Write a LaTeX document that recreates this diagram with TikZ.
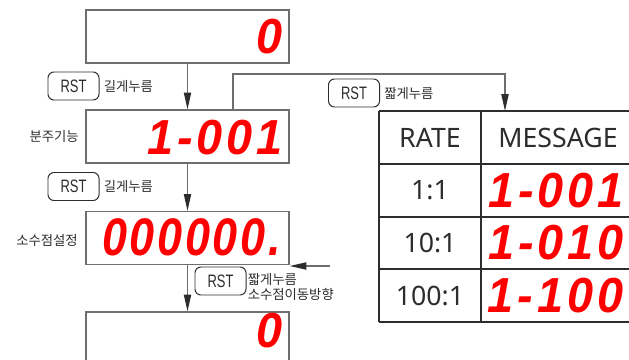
\documentclass[tikz,border=0pt]{standalone}
\usepackage{fontspec}
\setmainfont{Noto Sans}
\newfontfamily\hangul{Noto Sans CJK KR}
\newfontfamily\keyfont[FakeStretch=0.72]{Liberation Sans}
\newfontfamily\segfont[FakeStretch=0.95,LetterSpace=8]{Liberation Sans}
\newfontfamily\segtight[FakeStretch=0.85,LetterSpace=5]{Liberation Sans}
\usetikzlibrary{arrows.meta}
\definecolor{ledred}{RGB}{255,0,0}
\definecolor{edge}{RGB}{110,110,110}
\definecolor{ink}{RGB}{45,45,45}
\tikzset{
  panel/.style={draw=edge, line width=0.9pt, minimum width=5.075cm, minimum height=1.325cm, inner sep=0pt},
  key/.style={draw=ink, line width=0.7pt, rounded corners=0.15cm, minimum width=1.275cm, minimum height=0.7cm,
    inner sep=0pt, text=ink, font=\keyfont\fontsize{12.8}{13}\selectfont},
  note/.style={text=ink, inner sep=0pt, font=\hangul\fontsize{9.5}{10.7}\selectfont},
  led/.style={text=ledred, inner sep=0pt, anchor=east, font=\segfont\bfseries\itshape\fontsize{35}{36}\selectfont},
  cell/.style={text=ink, inner sep=0pt, font=\fontsize{19}{20}\selectfont},
  flow/.style={draw=edge, line width=0.9pt, -{Triangle[length=4.2mm,width=1.8mm,color=ink]}},
  grid/.style={draw=ink, line width=1.1pt}
}
\begin{document}
\begin{tikzpicture}[x=0.025cm, y=-0.025cm]
  \useasboundingbox (0,0) rectangle (629,360);
  \clip (0,0) rectangle (629,360);
  % display panels
  \node[panel] (zero) at (187.5,36.5) {};
  \node[panel] (div) at (187.5,136.5) {};
  \node[panel] (dec) at (187.5,238) {};
  \node[panel] (done) at (187.5,338.5) {};
  \node[led] (zeroval) at (283,36.5) {0};
  \node[led] (divval) at (283,137.5) {1-001};
  \node[led, font=\segtight\bfseries\itshape\fontsize{37.6}{38}\selectfont] (decval) at (281,237.5) {000000.};
  \node[led] (doneval) at (283,331) {0};
  \node[note, anchor=east] (divname) at (79,136) {분주기능};
  \node[note, anchor=east] (decname) at (78,240) {소수점설정};
  % keys
  \node[key] (hold1) at (73.5,86) {RST};
  \node[note, anchor=west] (hold1txt) at ([xshift=0.1cm]hold1.east) {길게누름};
  \node[key] (hold2) at (73.5,186.5) {RST};
  \node[note, anchor=west] (hold2txt) at ([xshift=0.1cm]hold2.east) {길게누름};
  \node[key] (tap1) at (220.5,281) {RST};
  \node[note, anchor=north west, align=left] (tap1txt) at (247.5,273.5) {짧게누름\\소수점이동방향};
  \node[key] (tap2) at (354,93) {RST};
  \node[note, anchor=west] (tap2txt) at ([xshift=0.1cm]tap2.east) {짧게누름};
  % connectors
  \coordinate (tap) at (233,110);
  \coordinate (bend) at (505,74);
  \coordinate (tabletop) at (505,111);
  \coordinate (shiftsrc) at (330,266);
  \begin{scope}[flow]
    \draw (zero) -- (div);
    \draw (div) -- (dec);
    \draw (dec) -- (done);
    \draw (tap) |- (bend) -- (tabletop);
    \draw (shiftsrc) -- (shiftsrc -| dec.east);
  \end{scope}
  % rate table
  \draw[grid] (379,111) -- (629,111);
  \draw[grid] (379,164) -- (629,164);
  \draw[grid] (379,217) -- (629,217);
  \draw[grid] (379,269) -- (629,269);
  \draw[grid] (379,322) -- (629,322);
  \draw[grid] (379,111) -- (379,322);
  \draw[grid] (481,111) -- (481,322);
  \node[cell] (rate) at (430,137.5) {RATE};
  \node[cell] (msg) at (558,137.5) {MESSAGE};
  \node[cell] (r1) at (430,190.5) {1:1};
  \node[cell] (r10) at (430,243) {10:1};
  \node[cell] (r100) at (430,295.5) {100:1};
  \node[led] (r1val) at (624,190.5) {1-001};
  \node[led] (r10val) at (624,243) {1-010};
  \node[led] (r100val) at (624,295.5) {1-\hspace{0.1em}100};
\end{tikzpicture}
\end{document}
